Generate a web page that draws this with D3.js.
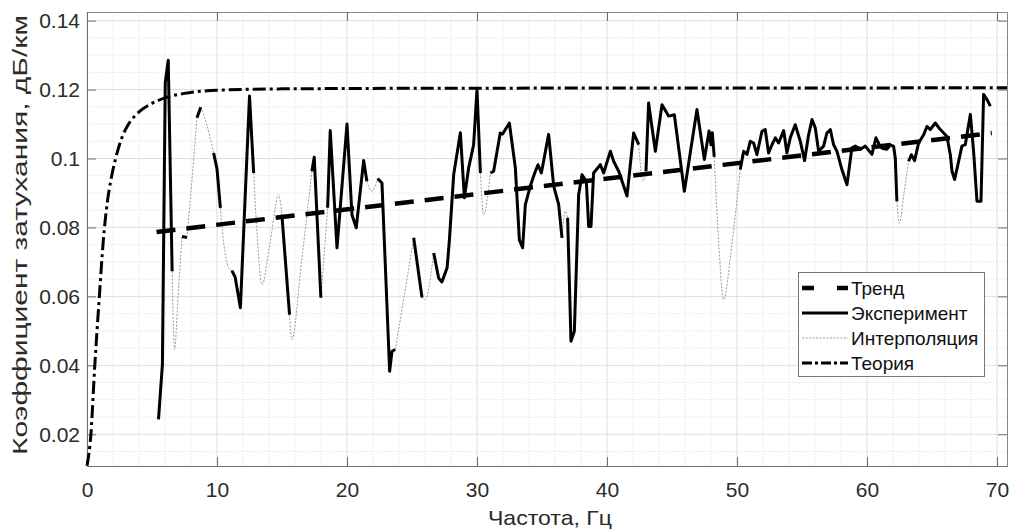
<!DOCTYPE html>
<meta charset="utf-8">
<style>
html, body {
  margin: 0;
  background: #fff;
}

.chart {
  display: block;
  font-family: "Liberation Sans", Arial, sans-serif;
}

.chart .grid-major line {
  stroke: #dedede;
  stroke-width: 1;
}

.chart .grid-minor line {
  stroke: #e6e6e6;
  stroke-width: 1;
  stroke-dasharray: 1.5, 1.5;
}

.chart .axis text {
  fill: #2b2b2b;
  font-size: 21px;
}

.chart .axis line,
.chart .axis path {
  stroke: #6e6e6e;
}

.chart .frame {
  fill: none;
  stroke: #8a8a8a;
}

.chart .title {
  fill: #2b2b2b;
  font-size: 21px;
}

.chart .theory {
  fill: none;
  stroke: #000;
  stroke-width: 3;
  stroke-dasharray: 13, 4, 3, 4;
}

.chart .trend {
  fill: none;
  stroke: #000;
  stroke-width: 4.5;
  stroke-dasharray: 19, 11;
}

.chart .experiment {
  fill: none;
  stroke: #000;
  stroke-width: 3;
  stroke-linejoin: round;
}

.chart .interp {
  fill: none;
  stroke: #9a9a9a;
  stroke-width: 1;
  stroke-dasharray: 2, 1.5;
}

.chart .legend-box {
  fill: #fff;
  stroke: #777;
  stroke-width: 1;
}

.chart .legend text {
  fill: #111;
  font-size: 19px;
}
</style>
<body>
<svg class="chart js-chart" width="1010" height="530"></svg>

<script src="https://cdn.jsdelivr.net/npm/d3@7"></script>
<script type="text/javascript">
"use strict";

/* global d3 */

// axes
var xTicks = [0, 10, 20, 30, 40, 50, 60, 70];
var yTicks = [0.02, 0.04, 0.06, 0.08, 0.1, 0.12, 0.14];
var xLabel = "Частота, Гц";
var yLabel = "Коэффициент затухания, дБ/км";
var legendNames = ["Тренд", "Эксперимент", "Интерполяция", "Теория"];

// theory curve
var theory = [
  [0, 0.0109], [0.3, 0.02], [0.6, 0.04], [0.95, 0.06], [1.25, 0.076],
  [1.55, 0.087], [1.85, 0.094], [2.2, 0.1], [2.7, 0.1062], [3.2, 0.11],
  [4, 0.1135], [5, 0.116], [6, 0.1176], [7.5, 0.1189], [10, 0.1198],
  [15, 0.1202], [30, 0.1204], [70.77, 0.1205]
];

// linear trend end points
var trend = [[5.35, 0.0787], [69.6, 0.1074]];

// measured pieces (solid black)
var experiment = [
  [[5.5, 0.0243], [5.8, 0.0402], [6.02, 0.122], [6.25, 0.1285], [6.55, 0.0673]],
  [[7.31, 0.0774], [7.69, 0.0771]],
  [[8.46, 0.1118], [8.75, 0.1149]],
  [[9.74, 0.1016], [10.0, 0.097], [10.26, 0.0857]],
  [[11.15, 0.0675], [11.4, 0.0655], [11.8, 0.0567], [12.5, 0.1181], [12.82, 0.0958]],
  [[14.99, 0.0837], [15.58, 0.0547]],
  [[17.3, 0.0963], [17.48, 0.1004], [17.99, 0.0596]],
  [[18.51, 0.0857], [18.71, 0.1081], [19.23, 0.0741], [20.0, 0.11], [20.38, 0.0837],
   [20.71, 0.0799], [21.28, 0.0994], [21.53, 0.0934]],
  [[22.35, 0.0942], [22.69, 0.0929], [23.28, 0.0383], [23.46, 0.0441], [23.71, 0.0446]],
  [[25.13, 0.077], [25.77, 0.0597]],
  [[26.67, 0.0726], [27.05, 0.0653], [27.3, 0.0642], [27.7, 0.0683], [27.87, 0.076],
   [28.21, 0.0954], [28.72, 0.1075], [29.03, 0.0886], [29.36, 0.0973], [29.74, 0.104],
   [30.0, 0.12], [30.26, 0.0958]],
  [[31.03, 0.0958], [31.28, 0.0963], [31.79, 0.1074], [31.97, 0.1071], [32.49, 0.1103],
   [32.95, 0.0973], [33.26, 0.0764], [33.51, 0.0741], [33.72, 0.0866], [34.1, 0.092],
   [34.44, 0.0958], [34.69, 0.0982], [34.95, 0.0958], [35.51, 0.107], [35.9, 0.092],
   [36.28, 0.0867], [36.54, 0.077]],
  [[36.97, 0.0828], [37.23, 0.047], [37.49, 0.0499], [37.82, 0.0895], [38.08, 0.0953],
   [38.41, 0.0934], [38.59, 0.0803], [38.77, 0.0803], [38.97, 0.0958], [39.49, 0.0982],
   [39.74, 0.0958], [40.26, 0.1021], [40.51, 0.0992], [40.9, 0.0963], [41.54, 0.0891],
   [42.05, 0.1074], [42.44, 0.104]],
  [[43.0, 0.0963], [43.2, 0.1161], [43.72, 0.1021], [44.23, 0.1156], [44.74, 0.1123],
   [45.18, 0.1127], [45.95, 0.0905], [46.92, 0.1142], [47.49, 0.0997], [47.85, 0.108],
   [48.0, 0.104], [48.1, 0.1075], [48.25, 0.1005]],
  [[50.25, 0.0968], [50.51, 0.1021], [50.77, 0.1012], [51.02, 0.105], [51.28, 0.1045],
   [51.53, 0.1011], [51.92, 0.1079], [52.17, 0.1084], [52.43, 0.1016], [52.69, 0.104],
   [52.95, 0.106], [53.2, 0.1045], [53.59, 0.1081], [53.84, 0.1016], [54.1, 0.106],
   [54.48, 0.1098], [54.87, 0.105], [55.2, 0.0994], [55.51, 0.1069], [55.77, 0.1113],
   [56.02, 0.1089], [56.28, 0.1021], [56.66, 0.1036], [56.92, 0.1074], [57.18, 0.1084],
   [57.43, 0.104], [57.69, 0.1021], [58.07, 0.0968], [58.46, 0.0924], [58.84, 0.1031],
   [59.1, 0.1036], [59.48, 0.1026], [59.87, 0.1036], [60.38, 0.1012], [60.69, 0.106],
   [60.95, 0.104], [61.15, 0.103], [61.54, 0.1027], [61.79, 0.104], [62.05, 0.1035],
   [62.18, 0.1], [62.3, 0.0876]],
  [[63.2, 0.0992], [63.41, 0.1011], [63.66, 0.0994], [63.97, 0.1045], [64.36, 0.1069],
   [64.61, 0.1093], [64.87, 0.1084], [65.25, 0.1103], [65.64, 0.1084], [65.9, 0.1074],
   [66.15, 0.1064], [66.41, 0.1011], [66.54, 0.0963], [66.74, 0.0939], [67.05, 0.0992],
   [67.3, 0.1036], [67.56, 0.104], [67.95, 0.1128], [68.2, 0.1021], [68.46, 0.0876],
   [68.77, 0.0876], [68.97, 0.1186], [69.23, 0.1171], [69.49, 0.1152]]
];

// gaps filled by interpolation (thin grey)
var interpolation = [
  [[6.55, 0.0673], [6.74, 0.0446], [7.0, 0.06], [7.31, 0.0774]],
  [[7.69, 0.0771], [8.1, 0.095], [8.46, 0.1118]],
  [[8.75, 0.1149], [9.2, 0.11], [9.74, 0.1016]],
  [[10.26, 0.0857], [10.6, 0.073], [10.95, 0.068], [11.15, 0.0675]],
  [[12.82, 0.0958], [13.1, 0.077], [13.46, 0.0634], [14.1, 0.076], [14.74, 0.0895], [14.99, 0.0837]],
  [[15.58, 0.0547], [15.76, 0.0475], [16.5, 0.07], [17.3, 0.0963]],
  [[17.99, 0.0596], [18.3, 0.075], [18.51, 0.0857]],
  [[21.53, 0.0934], [21.92, 0.0905], [22.35, 0.0942]],
  [[23.71, 0.0446], [24.4, 0.06], [25.13, 0.077]],
  [[25.77, 0.0597], [26.0, 0.059], [26.67, 0.0726]],
  [[30.26, 0.0958], [30.51, 0.0837], [31.03, 0.0958]],
  [[36.54, 0.077], [36.79, 0.0847], [36.97, 0.0828]],
  [[42.44, 0.104], [42.77, 0.0934], [43.0, 0.0963]],
  [[48.25, 0.1005], [48.6, 0.075], [48.97, 0.0591], [49.6, 0.075], [50.25, 0.0968]],
  [[62.3, 0.0876], [62.49, 0.0813], [62.85, 0.09], [63.2, 0.0992]]
];

var chart = {
  margin: { top: 12, right: 3, bottom: 64, left: 87 },
  width: 1010,
  height: 530,

  init: function () {
    this.el = d3.select(".js-chart");
    this.w = this.width - this.margin.left - this.margin.right;
    this.h = this.height - this.margin.top - this.margin.bottom;

    this.x = d3.scaleLinear().domain([0, 70.77]).range([0, this.w]);
    this.y = d3.scaleLinear().domain([0.0108, 0.1425]).range([this.h, 0]);

    this.g = this.el.append("g")
      .attr("transform", "translate(" + this.margin.left + "," + this.margin.top + ")");

    this.drawGrid();
    this.drawAxes();
    this.drawSeries();
    this.drawLegend();
  },

  drawGrid: function () {
    var x = this.x, y = this.y, w = this.w, h = this.h;
    var xMinor = d3.range(2, 71, 2).filter(function (d) { return d % 10 !== 0; });
    var yMinor = d3.range(0.015, 0.1425, 0.005).filter(function (d) {
      return Math.abs(d / 0.02 - Math.round(d / 0.02)) > 0.01;
    });

    var minor = this.g.append("g").attr("class", "grid-minor");
    minor.selectAll(".vx").data(xMinor).enter().append("line")
      .attr("x1", x).attr("x2", x).attr("y1", 0).attr("y2", h);
    minor.selectAll(".hy").data(yMinor).enter().append("line")
      .attr("y1", y).attr("y2", y).attr("x1", 0).attr("x2", w);

    var major = this.g.append("g").attr("class", "grid-major");
    major.selectAll(".vx").data(xTicks).enter().append("line")
      .attr("x1", x).attr("x2", x).attr("y1", 0).attr("y2", h);
    major.selectAll(".hy").data(yTicks).enter().append("line")
      .attr("y1", y).attr("y2", y).attr("x1", 0).attr("x2", w);
  },

  drawAxes: function () {
    var x = this.x, y = this.y, w = this.w, h = this.h;
    var fmt = function (d) { return String(+d.toFixed(2)); };

    this.g.append("rect")
      .attr("class", "frame")
      .attr("x", 0.5).attr("y", 0.5)
      .attr("width", w).attr("height", h);

    this.g.append("g")
      .attr("class", "axis axis--x")
      .attr("transform", "translate(0," + h + ")")
      .call(d3.axisBottom(x).tickValues(xTicks).tickSize(-9).tickPadding(16).tickSizeOuter(0));

    this.g.append("g")
      .attr("class", "axis axis--y")
      .call(d3.axisLeft(y).tickValues(yTicks).tickFormat(fmt).tickSize(-9).tickPadding(7).tickSizeOuter(0));

    this.g.append("g")
      .attr("class", "axis axis--top")
      .call(d3.axisTop(x).tickValues(xTicks).tickSize(-9).tickFormat("").tickSizeOuter(0));

    this.g.append("g")
      .attr("class", "axis axis--right")
      .attr("transform", "translate(" + w + ",0)")
      .call(d3.axisRight(y).tickValues(yTicks).tickSize(-9).tickFormat("").tickSizeOuter(0));

    this.g.selectAll(".axis--top path, .axis--right path").remove();

    this.g.append("text")
      .attr("class", "title")
      .attr("x", 463)
      .attr("y", h + 59)
      .attr("text-anchor", "middle")
      .attr("textLength", 124)
      .attr("lengthAdjust", "spacingAndGlyphs")
      .text(xLabel);

    this.g.append("text")
      .attr("class", "title")
      .attr("transform", "translate(" + (-60) + "," + (h / 2 - 4) + ") rotate(-90)")
      .attr("text-anchor", "middle")
      .attr("textLength", 440)
      .attr("lengthAdjust", "spacingAndGlyphs")
      .text(yLabel);
  },

  drawSeries: function () {
    var x = this.x, y = this.y;
    var plot = this.g.append("g");

    var smooth = d3.line()
      .x(function (d) { return x(d[0]); })
      .y(function (d) { return y(d[1]); })
      .curve(d3.curveMonotoneX);

    var straight = d3.line()
      .x(function (d) { return x(d[0]); })
      .y(function (d) { return y(d[1]); });

    plot.selectAll(".interp").data(interpolation).enter().append("path")
      .attr("class", "interp")
      .attr("d", smooth);

    plot.append("path")
      .attr("class", "trend")
      .attr("d", straight(trend));

    plot.selectAll(".experiment").data(experiment).enter().append("path")
      .attr("class", "experiment")
      .attr("d", straight);

    plot.append("path")
      .attr("class", "theory")
      .attr("d", smooth(theory));
  },

  drawLegend: function () {
    var lg = this.el.append("g")
      .attr("class", "legend")
      .attr("transform", "translate(798,272)");

    lg.append("rect")
      .attr("class", "legend-box")
      .attr("x", 0.5).attr("y", 0.5)
      .attr("width", 186).attr("height", 104);

    var styles = ["trend", "experiment", "interp", "theory"];

    var rows = lg.selectAll(".row").data(legendNames).enter().append("g")
      .attr("class", "row")
      .attr("transform", function (d, i) { return "translate(0," + (16 + i * 25) + ")"; });

    rows.append("line")
      .attr("class", function (d, i) { return styles[i]; })
      .attr("x1", 4).attr("x2", 50)
      .attr("y1", 0).attr("y2", 0)
      .style("stroke-dasharray", function (d, i) {
        return i === 0 ? "12,23" : i === 3 ? "10,3,3,3" : null;
      });

    rows.append("text")
      .attr("x", 53)
      .attr("dy", "0.35em")
      .text(String);
  }
};

chart.init();
</script>
</body>
